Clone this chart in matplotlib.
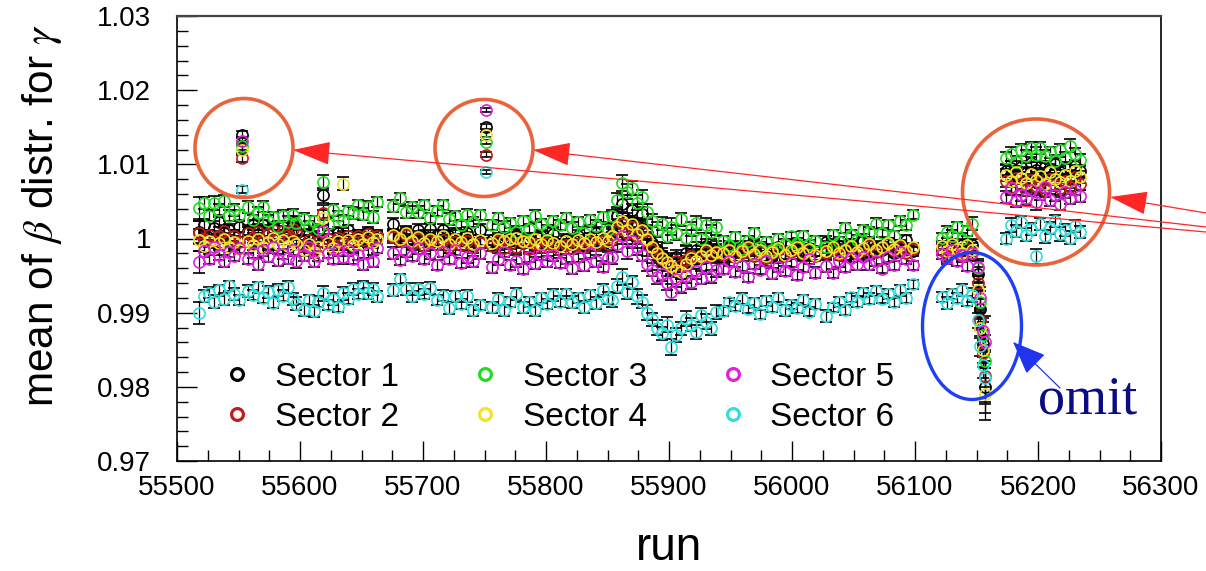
import matplotlib
matplotlib.use('Agg')
import matplotlib.pyplot as plt
from matplotlib.lines import Line2D
from matplotlib.patches import Ellipse, FancyArrowPatch
from matplotlib.ticker import MultipleLocator, FuncFormatter

plt.rcParams['font.family'] = ['Liberation Sans', 'DejaVu Sans']
plt.rcParams['mathtext.fontset'] = 'stix'

# run numbers (one entry per run, shared by all six sectors)
runs = [
    55518, 55522, 55526, 55530, 55534, 55538, 55542, 55546, 55550, 55553,
    55558, 55562, 55566, 55570, 55574, 55578, 55582, 55586, 55590, 55594, 55597,
    55603, 55607, 55611, 55615, 55619, 55623, 55627, 55631, 55635, 55639,
    55643, 55647, 55651, 55655, 55659, 55663,
    55676, 55681, 55686, 55691, 55696, 55701, 55706, 55711, 55716, 55721,
    55726, 55731, 55736, 55741, 55746, 55751,
    55756, 55761, 55766, 55771, 55776, 55781, 55786, 55791, 55796, 55801,
    55806, 55811, 55816, 55821, 55826, 55831, 55836, 55841, 55846, 55850,
    55854, 55858, 55862, 55866, 55870, 55874, 55878, 55882, 55886, 55890, 55894,
    55898, 55902, 55906, 55910, 55914, 55918, 55922, 55926, 55930, 55934, 55938,
    55944, 55949, 55954, 55959, 55964, 55969, 55974, 55979, 55984, 55989,
    55994, 55999, 56004, 56009, 56014, 56019,
    56028, 56033, 56038, 56043, 56048, 56053, 56058, 56063, 56068, 56073,
    56078, 56083, 56088, 56093, 56098,
    56122, 56126, 56130, 56134, 56138, 56142, 56146,
    56151, 56153, 56155, 56157,
    56174, 56178, 56182, 56186, 56190, 56194, 56198, 56202, 56206, 56210,
    56214, 56218, 56222, 56226, 56230, 56234,
]

sector1 = [
    1.0009, 1.0018, 1.0005, 1.0014, 1.0022, 1.0007, 1.0012, 1.0003, 1.0016, 1.0140,
    1.0010, 1.0018, 1.0011, 1.0018, 1.0010, 1.0014, 1.0004, 1.0016, 1.0007, 1.0021, 1.0012,
    0.9997, 1.0006, 1.0002, 1.0010, 1.0058, 1.0005, 0.9993, 1.0008, 1.0001, 1.0011,
    0.9997, 1.0004, 1.0000, 1.0009, 0.9996, 1.0005,
    1.0020, 1.0004, 1.0009, 0.9999, 1.0012, 1.0005, 1.0013, 1.0005, 1.0012, 1.0003,
    1.0007, 0.9996, 1.0008, 0.9998, 1.0012, 1.0151,
    0.9998, 0.9992, 1.0001, 0.9997, 1.0005, 0.9994, 1.0000, 0.9988, 1.0003, 0.9996,
    1.0006, 0.9992, 0.9999, 0.9995, 1.0004, 0.9991, 1.0000, 1.0008, 0.9993, 0.9998,
    1.0006, 1.0030, 1.0047, 1.0024, 1.0038, 1.0018, 1.0033, 1.0008, 0.9994, 0.9985, 0.9978,
    0.9970, 0.9962, 0.9975, 0.9966, 0.9980, 0.9972, 0.9985, 0.9977, 0.9990, 0.9979, 0.9986,
    0.9975, 0.9988, 0.9982, 0.9990, 0.9983, 0.9990, 0.9982, 0.9986, 0.9976, 0.9988,
    0.9979, 0.9993, 0.9984, 0.9978, 0.9987, 0.9983,
    0.9995, 0.9984, 0.9990, 0.9978, 0.9993, 0.9986, 0.9996, 0.9982, 0.9989, 0.9985,
    0.9994, 0.9981, 0.9990, 0.9998, 0.9983,
    0.9985, 0.9976, 0.9989, 0.9983, 0.9991, 0.9984, 0.9991,
    0.9952, 0.9905, 0.9858, 0.9800,
    1.0091, 1.0095, 1.0085, 1.0097, 1.0088, 1.0102, 1.0093, 1.0087, 1.0096, 1.0092,
    1.0100, 1.0089, 1.0095, 1.0083, 1.0098, 1.0091,
]

sector2 = [
    1.0008, 0.9999, 1.0005, 0.9996, 1.0003, 1.0010, 0.9998, 1.0004, 0.9995, 1.0108,
    1.0007, 1.0001, 1.0009, 0.9997, 1.0006, 1.0012, 1.0003, 1.0010, 1.0005, 1.0013, 1.0007,
    0.9990, 0.9998, 0.9987, 0.9995, 1.0035, 0.9999, 0.9992, 1.0001, 0.9994, 1.0003,
    0.9996, 1.0004, 0.9998, 1.0006, 1.0000, 1.0003,
    1.0002, 0.9996, 1.0005, 0.9993, 0.9999, 0.9990, 0.9997, 0.9992, 0.9998, 0.9989,
    0.9995, 0.9991, 0.9997, 0.9988, 0.9994, 1.0113,
    0.9990, 0.9996, 0.9987, 0.9993, 0.9989, 0.9995, 0.9986, 0.9992, 0.9988, 0.9994,
    0.9990, 0.9985, 0.9991, 0.9987, 0.9993, 0.9989, 0.9995, 0.9991, 0.9997, 0.9992,
    1.0000, 1.0012, 1.0020, 1.0008, 1.0015, 1.0003, 1.0009, 0.9996, 0.9985, 0.9979, 0.9972,
    0.9966, 0.9961, 0.9969, 0.9964, 0.9971, 0.9977, 0.9970, 0.9975, 0.9982, 0.9976, 0.9980,
    0.9978, 0.9983, 0.9975, 0.9981, 0.9986, 0.9977, 0.9982, 0.9974, 0.9980, 0.9985,
    0.9976, 0.9982, 0.9987, 0.9979, 0.9984, 0.9976,
    0.9981, 0.9986, 0.9978, 0.9983, 0.9988, 0.9980, 0.9985, 0.9990, 0.9982, 0.9987,
    0.9992, 0.9984, 0.9989, 0.9981, 0.9986,
    0.9985, 0.9978, 0.9989, 0.9981, 0.9976, 0.9986, 0.9980,
    0.9940, 0.9890, 0.9845, 0.9815,
    1.0078, 1.0070, 1.0082, 1.0073, 1.0066, 1.0079, 1.0071, 1.0076, 1.0065, 1.0080,
    1.0072, 1.0068, 1.0077, 1.0069, 1.0083, 1.0074,
]

sector3 = [
    1.0041, 1.0048, 1.0031, 1.0048, 1.0039, 1.0050, 1.0031, 1.0038, 1.0032, 1.0125,
    1.0042, 1.0025, 1.0034, 1.0043, 1.0024, 1.0029, 1.0016, 1.0031, 1.0022, 1.0032, 1.0021,
    1.0026, 1.0017, 1.0023, 1.0013, 1.0076, 1.0020, 1.0039, 1.0030, 1.0023, 1.0037,
    1.0034, 1.0045, 1.0033, 1.0043, 1.0029, 1.0049,
    1.0044, 1.0054, 1.0036, 1.0042, 1.0036, 1.0045, 1.0027, 1.0037, 1.0045, 1.0026,
    1.0030, 1.0018, 1.0032, 1.0022, 1.0032, 1.0130,
    1.0018, 1.0027, 1.0016, 1.0021, 1.0009, 1.0024, 1.0013, 1.0030, 1.0019, 1.0011,
    1.0023, 1.0018, 1.0028, 1.0014, 1.0022, 1.0007, 1.0025, 1.0017, 1.0029, 1.0012,
    1.0030, 1.0052, 1.0075, 1.0063, 1.0068, 1.0048, 1.0056, 1.0036, 1.0024, 1.0012, 1.0020,
    1.0004, 1.0016, 1.0008, 1.0026, 1.0001, 1.0013, 1.0021, 0.9999, 1.0018, 1.0009, 1.0015,
    0.9996, 0.9991, 1.0002, 0.9986, 0.9997, 1.0007, 0.9989, 0.9995, 0.9984, 1.0000,
    0.9992, 1.0003, 0.9994, 1.0003, 0.9992, 0.9997,
    0.9988, 1.0005, 0.9995, 1.0014, 1.0005, 0.9998, 1.0012, 1.0009, 1.0020, 1.0008,
    1.0018, 1.0004, 1.0024, 1.0018, 1.0032,
    1.0001, 1.0009, 1.0004, 1.0015, 0.9999, 1.0010, 1.0020,
    0.9960, 0.9915, 0.9870, 0.9835,
    1.0108, 1.0114, 1.0103, 1.0119, 1.0111, 1.0122, 1.0113, 1.0122, 1.0111, 1.0116,
    1.0104, 1.0119, 1.0108, 1.0125, 1.0114, 1.0106,
]

sector4 = [
    0.9998, 0.9990, 0.9996, 0.9987, 0.9994, 1.0000, 0.9989, 0.9995, 0.9986, 1.0120,
    0.9997, 0.9991, 0.9999, 0.9988, 0.9995, 1.0001, 0.9992, 0.9998, 0.9990, 0.9996, 0.9993,
    0.9985, 0.9992, 0.9982, 0.9989, 1.0028, 0.9994, 0.9987, 0.9996, 1.0074, 0.9998,
    0.9991, 1.0000, 0.9993, 1.0002, 0.9995, 0.9999,
    1.0005, 0.9999, 1.0008, 0.9996, 1.0002, 0.9994, 1.0000, 0.9997, 1.0003, 0.9993,
    0.9999, 0.9995, 1.0001, 0.9992, 0.9998, 1.0140,
    0.9994, 1.0000, 0.9996, 0.9999, 1.0001, 0.9997, 0.9995, 1.0000, 0.9993, 0.9998,
    0.9994, 0.9990, 0.9996, 0.9992, 0.9998, 0.9994, 1.0000, 0.9995, 1.0001, 0.9996,
    1.0004, 1.0016, 1.0024, 1.0011, 1.0019, 1.0006, 1.0012, 0.9999, 0.9988, 0.9981, 0.9974,
    0.9968, 0.9963, 0.9958, 0.9955, 0.9966, 0.9974, 0.9969, 0.9977, 0.9984, 0.9978, 0.9982,
    0.9980, 0.9985, 0.9977, 0.9983, 0.9988, 0.9979, 0.9984, 0.9976, 0.9982, 0.9987,
    0.9978, 0.9984, 0.9989, 0.9981, 0.9986, 0.9978,
    0.9983, 0.9988, 0.9980, 0.9985, 0.9990, 0.9982, 0.9987, 0.9992, 0.9984, 0.9989,
    0.9994, 0.9986, 0.9991, 0.9983, 0.9988,
    0.9990, 0.9983, 0.9993, 0.9986, 0.9980, 0.9991, 0.9985,
    0.9930, 0.9880, 0.9850, 0.9790,
    1.0086, 1.0078, 1.0090, 1.0081, 1.0075, 1.0087, 1.0079, 1.0084, 1.0074, 1.0089,
    1.0080, 1.0076, 1.0085, 1.0077, 1.0091, 1.0083,
]

sector5 = [
    0.9968, 0.9983, 0.9972, 0.9989, 0.9978, 0.9970, 0.9982, 0.9977, 0.9987, 1.0132,
    0.9973, 0.9981, 0.9966, 0.9984, 0.9976, 0.9988, 0.9971, 0.9979, 0.9974, 0.9985, 0.9969,
    0.9978, 0.9988, 0.9970, 0.9976, 1.0010, 0.9981, 0.9973, 0.9984, 0.9975, 0.9984,
    0.9973, 0.9978, 0.9966, 0.9981, 0.9970, 0.9987,
    0.9980, 0.9971, 0.9983, 0.9977, 0.9987, 0.9972, 0.9980, 0.9964, 0.9982, 0.9973,
    0.9985, 0.9967, 0.9975, 0.9969, 0.9980, 1.0173,
    0.9961, 0.9972, 0.9982, 0.9964, 0.9970, 0.9959, 0.9975, 0.9967, 0.9978, 0.9969,
    0.9978, 0.9967, 0.9972, 0.9960, 0.9975, 0.9964, 0.9981, 0.9970, 0.9962, 0.9974,
    0.9975, 0.9992, 1.0004, 0.9983, 0.9996, 0.9988, 0.9978, 0.9966, 0.9958, 0.9948, 0.9952,
    0.9940, 0.9928, 0.9945, 0.9936, 0.9950, 0.9941, 0.9956, 0.9947, 0.9962, 0.9949, 0.9958,
    0.9959, 0.9969, 0.9955, 0.9963, 0.9948, 0.9966, 0.9958, 0.9970, 0.9953, 0.9961,
    0.9956, 0.9967, 0.9951, 0.9962, 0.9972, 0.9954,
    0.9963, 0.9953, 0.9969, 0.9962, 0.9974, 0.9965, 0.9975, 0.9965, 0.9970, 0.9959,
    0.9975, 0.9964, 0.9982, 0.9972, 0.9964,
    0.9979, 0.9974, 0.9984, 0.9970, 0.9978, 0.9963, 0.9981,
    0.9962, 0.9920, 0.9875, 0.9860,
    1.0056, 1.0068, 1.0051, 1.0059, 1.0054, 1.0065, 1.0049, 1.0060, 1.0070, 1.0052,
    1.0058, 1.0047, 1.0063, 1.0055, 1.0066, 1.0057,
]

sector6 = [
    0.9900, 0.9922, 0.9927, 0.9915, 0.9930, 0.9919, 0.9936, 0.9925, 0.9917, 1.0066,
    0.9929, 0.9924, 0.9934, 0.9920, 0.9928, 0.9913, 0.9931, 0.9923, 0.9935, 0.9918, 0.9912,
    0.9904, 0.9917, 0.9902, 0.9915, 0.9926, 0.9910, 0.9918, 0.9908, 0.9926, 0.9919,
    0.9932, 0.9925, 0.9935, 0.9926, 0.9932, 0.9922,
    0.9930, 0.9945, 0.9932, 0.9922, 0.9932, 0.9925, 0.9933, 0.9917, 0.9923, 0.9906,
    0.9922, 0.9912, 0.9922, 0.9903, 0.9910, 1.0090,
    0.9907, 0.9918, 0.9903, 0.9914, 0.9925, 0.9907, 0.9914, 0.9903, 0.9920, 0.9912,
    0.9924, 0.9915, 0.9925, 0.9914, 0.9920, 0.9908, 0.9924, 0.9913, 0.9931, 0.9920,
    0.9917, 0.9936, 0.9948, 0.9928, 0.9941, 0.9922, 0.9915, 0.9900, 0.9891, 0.9880, 0.9872,
    0.9884, 0.9854, 0.9870, 0.9879, 0.9892, 0.9884, 0.9874, 0.9897, 0.9888, 0.9879, 0.9901,
    0.9902, 0.9914, 0.9909, 0.9919, 0.9905, 0.9913, 0.9898, 0.9916, 0.9908, 0.9920,
    0.9903, 0.9911, 0.9906, 0.9917, 0.9901, 0.9912,
    0.9895, 0.9907, 0.9914, 0.9904, 0.9921, 0.9915, 0.9927, 0.9919, 0.9929, 0.9919,
    0.9925, 0.9914, 0.9930, 0.9920, 0.9938,
    0.9921, 0.9913, 0.9925, 0.9920, 0.9930, 0.9916, 0.9924,
    0.9890, 0.9855, 0.9830, 0.9812,
    1.0000, 1.0018, 1.0010, 1.0022, 1.0005, 1.0013, 0.9976, 1.0019, 1.0003, 1.0014,
    1.0024, 1.0006, 1.0012, 1.0001, 1.0017, 1.0009,
]

# statistical error per run, in units of 1e-4
run_err_e4 = [
    15, 8, 7, 9, 7, 8, 7, 8, 7, 5,
    8, 7, 8, 7, 8, 7, 8, 7, 8, 8, 9,
    8, 7, 8, 7, 10, 7, 8, 7, 9, 7,
    8, 7, 8, 7, 8, 7,
    8, 7, 8, 7, 8, 7, 8, 7, 7, 8,
    7, 7, 8, 7, 7, 3,
    7, 8, 7, 7, 8, 7, 7, 8, 7, 7,
    8, 7, 7, 8, 7, 8, 7, 8, 7, 8,
    9, 10, 11, 10, 9, 10, 9, 10, 9, 10, 9,
    10, 11, 10, 9, 10, 9, 10, 9, 10, 9, 10,
    7, 6, 7, 7, 6, 7, 6, 7, 7, 6,
    7, 6, 7, 7, 6, 7,
    8, 6, 7, 7, 6, 7, 6, 7, 7, 6,
    7, 6, 7, 7, 6,
    7, 8, 7, 7, 8, 7, 9,
    10, 14, 18, 35,
    8, 9, 8, 8, 9, 8, 10, 8, 9, 8,
    8, 9, 8, 9, 8, 8,
]

sector_names = ['Sector 1', 'Sector 2', 'Sector 3', 'Sector 4', 'Sector 5', 'Sector 6']
sector_colors = ['#000000', '#c01c1c', '#22dd22', '#f2e22a', '#e020e0', '#30dede']
sectors = [sector1, sector2, sector3, sector4, sector5, sector6]

run_err = [e * 1e-4 for e in run_err_e4]

W, H = 1206, 571
fig = plt.figure(figsize=(W / 100, H / 100), dpi=100)
ax = fig.add_axes([177 / W, 110 / H, 984 / W, 445 / H])

for vals, col in zip(sectors, sector_colors):
    ax.errorbar(runs, vals, yerr=run_err, fmt='o', ms=8, mfc='none', mec=col,
                mew=1.2, ecolor='black', elinewidth=0.9, capsize=4.0, capthick=1.1)

ax.set_xlim(55500, 56300)
ax.set_ylim(0.97, 1.03)
ax.xaxis.set_major_locator(MultipleLocator(100))
ax.xaxis.set_minor_locator(MultipleLocator(25))
ax.yaxis.set_major_locator(MultipleLocator(0.01))
ax.yaxis.set_minor_locator(MultipleLocator(0.002))
ax.yaxis.set_major_formatter(FuncFormatter(lambda v, p: f'{v:g}'))
ax.tick_params(which='both', direction='in', top=False, right=False, width=1.0)
ax.tick_params(which='major', length=14.4, labelsize=20)
ax.tick_params(axis='x', which='major', pad=10)
ax.tick_params(axis='y', which='major', pad=18.5)
ax.tick_params(which='minor', length=7.8)
for s in ax.spines.values():
    s.set_linewidth(1.2)
ax.spines['top'].set_color('#444444')
ax.spines['top'].set_linewidth(1.6)

# legend, 3 columns x 2 rows, no frame
handles = [Line2D([], [], ls='none', marker='o', ms=8.5, mfc='none', mec=c, mew=2.3)
           for c in sector_colors]
ax.legend(handles, sector_names, ncol=3, frameon=False, fontsize=24,
          loc='upper left', bbox_to_anchor=(224 / W, 1 - 362 / H),
          bbox_transform=fig.transFigure, borderaxespad=0, borderpad=0,
          handlelength=0.8, handletextpad=0.73, columnspacing=2.18,
          labelspacing=0.26)

fig.text(53 / W, 1 - 215 / H, r'mean of $\beta$ distr. for $\gamma$', fontsize=30.5,
         rotation=90, rotation_mode='anchor', ha='center', va='baseline')
fig.text(669 / W, 1 - 560 / H, 'run', fontsize=33, ha='center', va='baseline')

# hand-drawn style annotations on top of the plot
def px(x, y):
    return (x / 100, (H - y) / 100)

orange = '#e9633d'
for cx, cy, w, h in [(244, 148, 98, 99), (484, 148, 98, 97), (1036, 192, 147, 146)]:
    fig.add_artist(Ellipse(px(cx, cy), w / 100, h / 100, transform=fig.dpi_scale_trans,
                           fill=False, ec=orange, lw=2.6))
fig.add_artist(Ellipse(px(972, 326), 99 / 100, 147 / 100, transform=fig.dpi_scale_trans,
                       fill=False, ec='#1e40f5', lw=2.4))

for tail, tip in [((1206, 232), (293, 150)), ((1206, 227), (533, 150)),
                  ((1206, 213), (1110, 197))]:
    fig.add_artist(FancyArrowPatch(px(*tail), px(*tip), transform=fig.dpi_scale_trans,
                                   arrowstyle='-|>,head_length=24,head_width=7.5',
                                   mutation_scale=1, color='#ff2626', lw=0.9,
                                   shrinkA=0, shrinkB=0))
fig.add_artist(FancyArrowPatch(px(1060, 388), px(1013, 342), transform=fig.dpi_scale_trans,
                               arrowstyle='-|>,head_length=21,head_width=8.5',
                               mutation_scale=1, color='#2233ee', lw=0.9,
                               shrinkA=0, shrinkB=0))
fig.text(1038 / W, 1 - 413 / H, 'omit', fontsize=39, family='Liberation Serif',
         color='#0c0c82', ha='left', va='baseline')

fig.savefig('out.png', dpi=100)
